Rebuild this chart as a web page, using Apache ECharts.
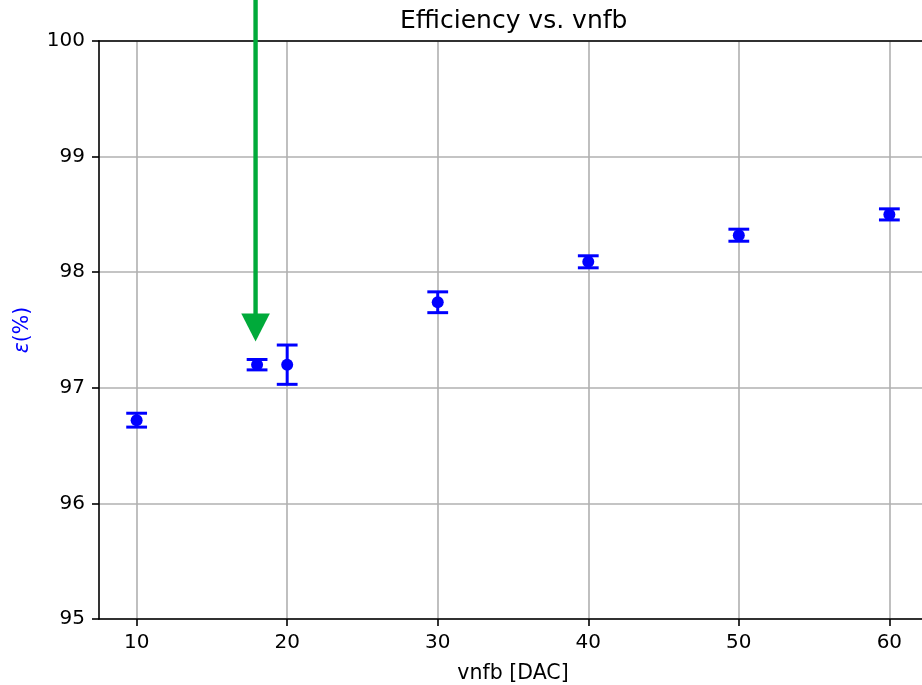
<!DOCTYPE html>
<html>
<head>
<meta charset="utf-8">
<script src="https://cdn.jsdelivr.net/npm/echarts@6/dist/echarts.min.js"></script>
<style>html,body{margin:0;padding:0;background:#fff}#c{width:922px;height:685px}</style>
</head>
<body>
<div id="c"></div>
<script>
var vnfb = [10, 18, 20, 30, 40, 50, 60];
var efficiency = [96.72, 97.20, 97.20, 97.74, 98.09, 98.32, 98.50];
var errors = [0.06, 0.045, 0.17, 0.09, 0.052, 0.052, 0.048];
var xTicks = [10, 20, 30, 40, 50, 60];
var yTicks = [95, 96, 97, 98, 99, 100];
var arrowX = [17.9];
var arrowFrom = [100.36];
var arrowTo = [97.40];

var blue = '#0000ff';
var green = '#00aa3a';
var font = 'DejaVu Sans';

var errData = vnfb.map(function (x, i) { return [x, efficiency[i], errors[i]]; });
var ptData = vnfb.map(function (x, i) { return [x, efficiency[i]]; });
var arrowData = arrowX.map(function (x, i) { return [x, arrowFrom[i], arrowTo[i]]; });

var chart = echarts.init(document.getElementById('c'));
chart.setOption({
  animation: false,
  backgroundColor: '#fff',
  title: {
    text: 'Efficiency vs. vnfb',
    left: 395, top: 4,
    textStyle: { fontFamily: font, fontSize: 25, fontWeight: 'normal', color: '#000' }
  },
  grid: { left: 99, top: 41, width: 828, height: 578, outerBoundsMode: 'none', containLabel: false, show: false },
  xAxis: [{
    type: 'value', min: 7.5, max: 62.5,
    name: 'vnfb [DAC]', nameLocation: 'middle', nameGap: 44,
    nameTextStyle: { fontFamily: font, fontSize: 20.5, color: '#000' },
    axisLine: { show: true, onZero: false, lineStyle: { color: '#000', width: 1.6 } },
    axisTick: { show: true, length: 7, lineStyle: { color: '#000', width: 1.6 }, customValues: xTicks },
    axisLabel: { margin: 14, fontFamily: font, fontSize: 20, color: '#000', customValues: xTicks },
    splitLine: { show: true, lineStyle: { color: '#b0b0b0', width: 1.6 } },
    z: 1
  }, {
    type: 'value', position: 'top', min: 7.5, max: 62.5,
    axisLine: { show: true, onZero: false, lineStyle: { color: '#000', width: 1.6 } },
    axisTick: { show: false }, axisLabel: { show: false }, splitLine: { show: false },
    z: 2
  }],
  yAxis: {
    type: 'value', min: 95, max: 100, interval: 1,
    name: '{e|ε}(%)', nameLocation: 'middle', nameGap: 66, nameRotate: 90,
    nameTextStyle: { fontFamily: font, fontSize: 20.5, color: blue,
      rich: { e: { fontFamily: font, fontSize: 20.5, fontStyle: 'italic', color: blue } } },
    axisLine: { show: true, onZero: false, lineStyle: { color: '#000', width: 1.6 } },
    axisTick: { show: true, length: 7, lineStyle: { color: '#000', width: 1.6 } },
    axisLabel: { margin: 14, fontFamily: font, fontSize: 20, color: '#000',
      formatter: function (v) { return yTicks.indexOf(v) >= 0 ? String(v) : ''; } },
    splitLine: { show: true, lineStyle: { color: '#b0b0b0', width: 1.6 } }
  },
  series: [
    {
      type: 'custom',
      data: errData,
      z: 3,
      renderItem: function (params, api) {
        var x = api.value(0), v = api.value(1), e = api.value(2);
        var top = api.coord([x, v + e]);
        var bot = api.coord([x, v - e]);
        var cw = 10.4;
        var st = { stroke: blue, lineWidth: 3 };
        return {
          type: 'group',
          children: [
            { type: 'line', shape: { x1: top[0], y1: top[1], x2: bot[0], y2: bot[1] }, style: st },
            { type: 'line', shape: { x1: top[0] - cw, y1: top[1], x2: top[0] + cw, y2: top[1] }, style: st },
            { type: 'line', shape: { x1: bot[0] - cw, y1: bot[1], x2: bot[0] + cw, y2: bot[1] }, style: st }
          ]
        };
      }
    },
    {
      type: 'scatter',
      data: ptData,
      symbol: 'circle',
      symbolSize: 12,
      z: 4,
      itemStyle: { color: blue, opacity: 1 }
    },
    {
      type: 'custom',
      data: arrowData,
      clip: false,
      z: 5,
      renderItem: function (params, api) {
        var x = api.value(0);
        var p0 = api.coord([x, api.value(1)]);
        var p1 = api.coord([x, api.value(2)]);
        var headLen = 28, headW = 14.3;
        var hy = p1[1] - headLen;
        return {
          type: 'group',
          children: [
            { type: 'line', shape: { x1: p0[0], y1: p0[1], x2: p0[0], y2: hy + 1 }, style: { stroke: green, lineWidth: 4.4 } },
            { type: 'polygon', shape: { points: [[p1[0] - headW, hy], [p1[0] + headW, hy], [p1[0], p1[1]]] }, style: { fill: green } }
          ]
        };
      }
    }
  ]
});
</script>
</body>
</html>
